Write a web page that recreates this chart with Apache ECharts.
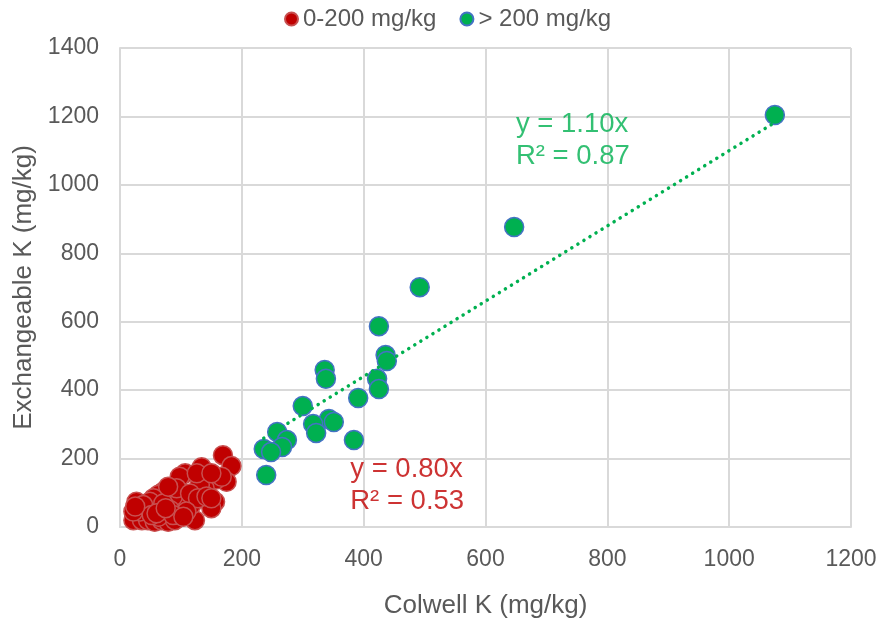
<!DOCTYPE html>
<html>
<head>
<meta charset="utf-8">
<script src="https://cdn.jsdelivr.net/npm/echarts@6/dist/echarts.min.js"></script>
<style>
html,body{margin:0;padding:0;background:#fff;}
#c{width:879px;height:618px;}
</style>
</head>
<body>
<div id="c"></div>
<script>
// Series names
var seriesNames = ['0-200 mg/kg', '> 200 mg/kg'];

// Colwell K (x) , Exchangeable K (y) for 0-200 mg/kg group
var lowX = [169,183,175,158,134,107,98,156,150,123,139,131,109,117,101,87,71,63,55,27,25,22,36,46,57,68,79,90,98,82,66,44,33,49,71,93,79,115,128,142,109,22,38,63,87,150,167,126,150,52,25,60,75,104];
var lowY = [210,178,132,139,175,157,147,74,55,20,113,123,94,64,59,89,103,94,84,74,30,20,20,20,15,20,15,20,35,50,45,50,45,74,69,113,118,98,84,89,45,45,64,30,35,84,147,157,157,35,60,40,55,30];

// Colwell K (x) , Exchangeable K (y) for > 200 mg/kg group
var highX = [1075,647,492,425,436,438,422,425,336,338,300,391,343,351,317,322,384,258,274,266,236,248,240];
var highY = [1204,877,701,587,503,485,433,403,459,433,354,377,316,307,301,275,254,278,254,234,228,219,152];

// Trendlines (through origin)
var lowSlope = 0.80, lowR2 = 0.53;
var highSlope = 1.10, highR2 = 0.87;
var lowTrendX = [22, 183];
var highTrendX = [236, 1075];

// Axis ticks
var xTicks = [0, 200, 400, 600, 800, 1000, 1200];
var yTicks = [0, 200, 400, 600, 800, 1000, 1200, 1400];

// Annotation anchors (data coordinates)
var lowLabelAt = [378, 121];
var highLabelAt = [650, 1131];

var FONT = 'Liberation Sans, Arial, sans-serif';
var RED = '#C00000', GREEN = '#00B050';

function zip(xs, ys){ return xs.map(function(x,i){ return [x, ys[i]]; }); }
function trend(xs, k){ return xs.map(function(x){ return [x, +(k*x).toFixed(2)]; }); }

var chart = echarts.init(document.getElementById('c'), null, {renderer:'canvas'});
chart.setOption({
  animation: false,
  backgroundColor: '#fff',
  textStyle: {fontFamily: FONT},
  legend: {
    data: seriesNames,
    top: 2,
    left: 279,
    itemWidth: 13,
    itemHeight: 13,
    itemGap: 23,
    icon: 'circle',
    textStyle: {fontSize: 24, color: '#595959', fontFamily: FONT}
  },
  grid: {left: 120, right: 28, top: 48, bottom: 91, containLabel: false, outerBoundsMode: 'none'},
  xAxis: {
    type: 'value',
    min: xTicks[0], max: xTicks[xTicks.length-1], interval: 200,
    name: 'Colwell K (mg/kg)',
    nameLocation: 'middle',
    nameGap: 66,
    nameTextStyle: {fontSize: 26, color: '#595959', fontFamily: FONT},
    axisLine: {show: true, lineStyle: {color: '#D9D9D9', width: 2}},
    axisTick: {show: false},
    axisLabel: {fontSize: 23, color: '#595959', margin: 21, fontFamily: FONT,
                formatter: function(v){ return String(v); }},
    splitLine: {show: true, lineStyle: {color: '#D9D9D9', width: 2}}
  },
  yAxis: {
    type: 'value',
    min: yTicks[0], max: yTicks[yTicks.length-1], interval: 200,
    name: 'Exchangeable K (mg/kg)',
    nameLocation: 'middle',
    nameGap: 80,
    nameTextStyle: {fontSize: 26, color: '#595959', fontFamily: FONT},
    axisLine: {show: true, lineStyle: {color: '#D9D9D9', width: 2}},
    axisTick: {show: false},
    axisLabel: {fontSize: 23, color: '#595959', margin: 21, fontFamily: FONT,
                formatter: function(v){ return String(v); }},
    splitLine: {show: true, lineStyle: {color: '#D9D9D9', width: 2}}
  },
  series: [
    {
      name: 'lowTrend', type: 'line', data: trend(lowTrendX, lowSlope),
      symbol: 'none', silent: true, z: 1,
      lineStyle: {color: RED, width: 3.5, type: [0.1, 7], cap: 'round'}
    },
    {
      name: seriesNames[0], type: 'scatter', data: zip(lowX, lowY),
      symbol: 'circle', symbolSize: 19, z: 3,
      itemStyle: {color: RED, borderColor: '#C85050', borderWidth: 1.5, opacity: 1}
    },
    {
      name: seriesNames[1], type: 'scatter', data: zip(highX, highY),
      symbol: 'circle', symbolSize: 19, z: 3,
      itemStyle: {color: GREEN, borderColor: '#4472C4', borderWidth: 1.5, opacity: 1}
    },
    {
      name: 'highTrend', type: 'line', data: trend(highTrendX, highSlope),
      symbol: 'none', silent: true, z: 4,
      lineStyle: {color: GREEN, width: 3.5, type: [0.1, 7], cap: 'round'}
    },
    {
      name: 'labels', type: 'scatter', silent: true, z: 5,
      symbolSize: 0, itemStyle: {color: 'rgba(0,0,0,0)'},
      data: [
        {value: lowLabelAt, label: {color: RED, formatter: 'y = ' + lowSlope.toFixed(2) + 'x\nR² = ' + lowR2.toFixed(2)}},
        {value: highLabelAt, label: {color: GREEN, formatter: 'y = ' + highSlope.toFixed(2) + 'x\nR² = ' + highR2.toFixed(2)}}
      ],
      label: {show: true, position: 'inside', align: 'left', verticalAlign: 'middle',
              fontSize: 27.5, lineHeight: 32, fontFamily: FONT,
              textBorderWidth: 0, textBorderColor: 'transparent', textShadowBlur: 0}
    }
  ]
});
</script>
</body>
</html>
